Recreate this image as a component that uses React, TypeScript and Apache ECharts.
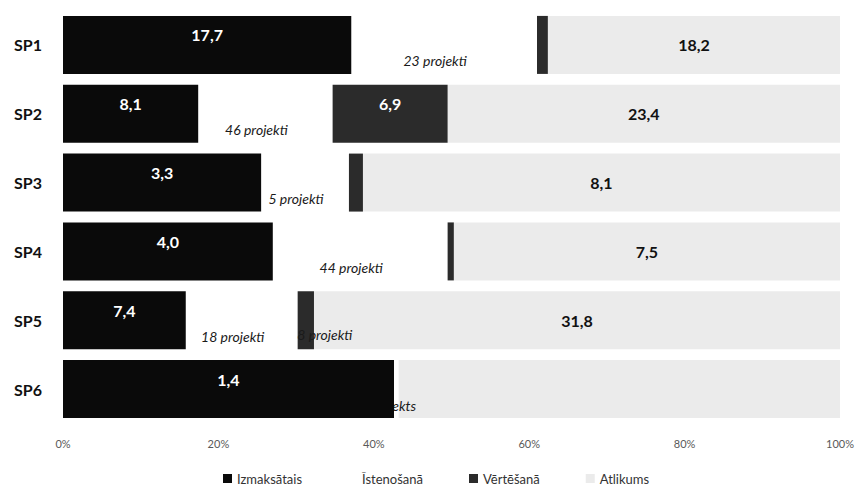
import React, { useEffect, useRef } from "react";
import * as echarts from "echarts";

const categories = ["SP1", "SP2", "SP3", "SP4", "SP5", "SP6"];
const seriesNames = ["Izmaksātais", "Īstenošanā", "Vērtēšanā", "Atlikums"];

// shares of each programme's total, percent
const paidShare = [37.1, 17.4, 25.5, 27.0, 15.8, 42.6];
const implShare = [23.9, 17.3, 11.3, 22.5, 14.4, 0.6];
const evalShare = [1.4, 14.8, 1.8, 0.8, 2.1, 0];
const restShare = [37.6, 50.5, 61.4, 49.7, 67.7, 56.8];

// data labels (millions) and project counts
const paidLabels = ["17,7", "8,1", "3,3", "4,0", "7,4", "1,4"];
const implProjects = ["23 projekti", "46 projekti", "5 projekti", "44 projekti", "18 projekti", "1 projekts"];
const evalLabels = ["", "6,9", "", "", "", ""];
const evalProjects = ["", "", "", "", "8 projekti", ""];
const restLabels = ["18,2", "23,4", "8,1", "7,5", "31,8", ""];

const tickLabels = ["0%", "20%", "40%", "60%", "80%", "100%"];

const FONT = "Lato, 'Open Sans', sans-serif";

export default function App() {
  const ref = useRef<HTMLDivElement>(null);

  useEffect(() => {
    if (!ref.current) return;
    const chart = echarts.init(ref.current, null, { renderer: "svg" });

    const valueLabel = {
      show: true,
      position: "inside",
      offset: [0, -10],
      color: "#ffffff",
      textBorderWidth: 0,
      textBorderColor: "transparent",
      fontFamily: FONT,
      fontWeight: "bold",
      fontSize: 16,
    };
    const projLabel = {
      show: true,
      position: "inside",
      offset: [-9, 16],
      color: "#1a1a1a",
      textBorderWidth: 0,
      textBorderColor: "transparent",
      fontFamily: FONT,
      fontStyle: "italic",
      fontSize: 14,
    };

    const option = {
      animation: false,
      backgroundColor: "#ffffff",
      textStyle: { fontFamily: FONT },
      grid: { left: 63, right: 18, top: 10.5, bottom: 67.5, containLabel: false },
      legend: {
        left: 218,
        top: 467,
        itemWidth: 9,
        itemHeight: 9,
        itemGap: 46,
        icon: "rect",
        textStyle: { color: "#333333", fontSize: 13, fontFamily: FONT },
        data: seriesNames,
      },
      xAxis: {
        type: "value",
        min: 0,
        max: 100,
        interval: 20,
        axisLine: { show: false },
        axisTick: { show: false },
        splitLine: { show: false },
        axisLabel: {
          color: "#595959",
          fontSize: 11,
          margin: 14,
          fontFamily: FONT,
          formatter: (v: number) => tickLabels[Math.round(v / 20)] ?? "",
        },
      },
      yAxis: {
        type: "category",
        inverse: true,
        data: categories,
        axisLine: { show: false },
        axisTick: { show: false },
        axisLabel: {
          color: "#111111",
          fontSize: 16,
          fontWeight: "bold",
          margin: 21,
          fontFamily: FONT,
        },
      },
      series: [
        {
          name: seriesNames[0],
          type: "bar",
          stack: "total",
          barWidth: 58,
          z: 4,
          itemStyle: { color: "#0a0a0a" },
          data: paidShare.map((v, i) => ({
            value: v,
            label: { ...valueLabel, formatter: paidLabels[i] },
          })),
        },
        {
          name: seriesNames[1],
          type: "bar",
          stack: "total",
          barWidth: 58,
          z: 2,
          itemStyle: { color: "#ffffff" },
          data: implShare.map((v, i) => ({
            value: v,
            label: { ...projLabel, formatter: implProjects[i] },
          })),
        },
        {
          name: seriesNames[2],
          type: "bar",
          stack: "total",
          barWidth: 58,
          z: 3,
          itemStyle: { color: "#2b2b2b" },
          data: evalShare.map((v, i) => {
            if (evalProjects[i]) {
              return {
                value: v,
                label: { ...projLabel, offset: [19, 14], formatter: evalProjects[i] },
              };
            }
            return {
              value: v,
              label: evalLabels[i]
                ? { ...valueLabel, formatter: evalLabels[i] }
                : { show: false },
            };
          }),
        },
        {
          name: seriesNames[3],
          type: "bar",
          stack: "total",
          barWidth: 58,
          z: 2,
          itemStyle: { color: "#ebebeb" },
          data: restShare.map((v, i) => ({
            value: v,
            label: restLabels[i]
              ? {
                  show: true,
                  position: "inside",
                  color: "#111111",
                  textBorderWidth: 0,
                  textBorderColor: "transparent",
                  fontFamily: FONT,
                  fontWeight: "bold",
                  fontSize: 16,
                  formatter: restLabels[i],
                }
              : { show: false },
          })),
        },
      ],
    };

    chart.setOption(option as any);
    return () => chart.dispose();
  }, []);

  return <div ref={ref} style={{ width: 858, height: 491, position: "absolute", left: 0, top: 0 }} />;
}
